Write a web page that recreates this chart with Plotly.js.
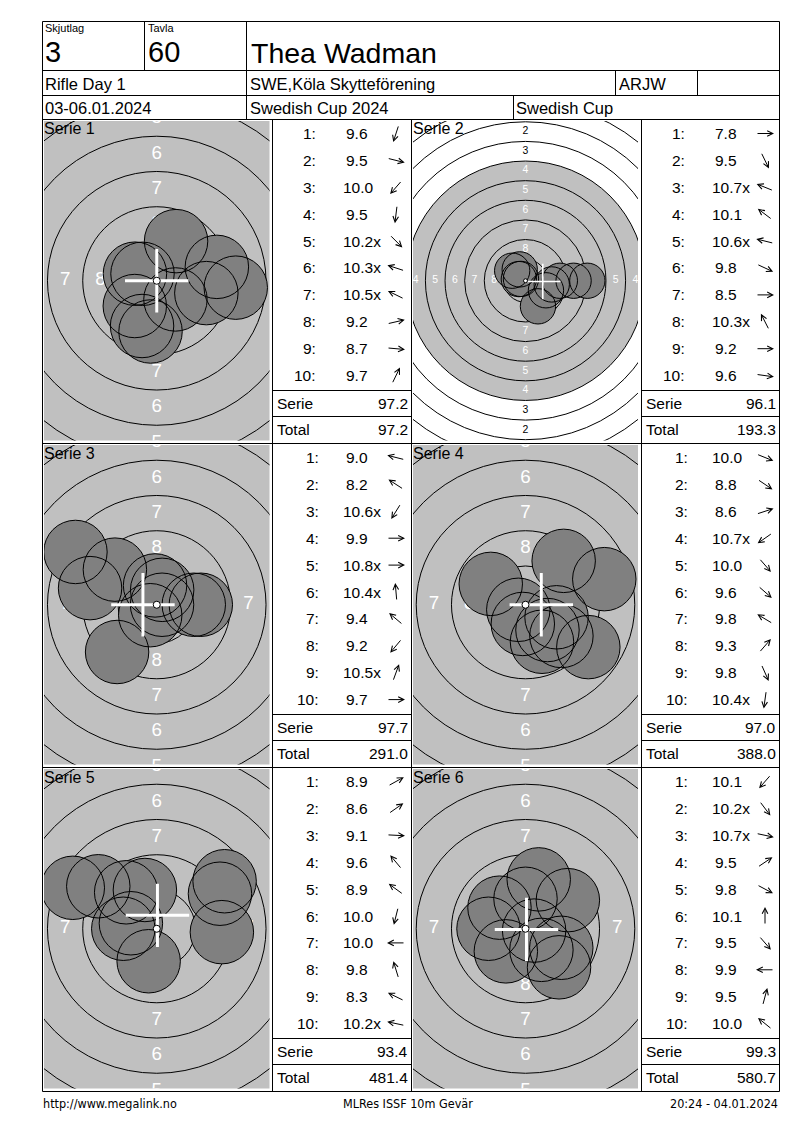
<!DOCTYPE html>
<html><head><meta charset="utf-8">
<script src="https://cdn.plot.ly/plotly-3.0.1.min.js"></script>
<style>html,body{margin:0;padding:0;background:#fff}#chart{width:800px;height:1130px}</style>
</head><body><div id="chart"></div>
<script>
// ---------------- DATA ----------------
const skjutlag = "3";
const tavla = "60";
const shooterName = "Thea Wadman";
const eventName = "Rifle Day 1";
const clubName = "SWE,Köla Skytteförening";
const shooterClass = "ARJW";
const dateText = "03-06.01.2024";
const competition = "Swedish Cup 2024";
const cupName = "Swedish Cup";
const footerLeft = "http://www.megalink.no";
const footerMid = "MLRes ISSF 10m Gevär";
const footerRight = "20:24 - 04.01.2024";

const serieNames = ["Serie 1", "Serie 2", "Serie 3", "Serie 4", "Serie 5", "Serie 6"];

// shot scores (as printed) and shot direction in degrees (0 = right, 90 = up)
const scores1 = ["9.6", "9.5", "10.0", "9.5", "10.2x", "10.3x", "10.5x", "9.2", "8.7", "9.7"];
const dir1 = [-108, -14, -131, -97, -45, 162, 154, 13, -5, 64];
const scores2 = ["7.8", "9.5", "10.7x", "10.1", "10.6x", "9.8", "8.5", "10.3x", "9.2", "9.6"];
const dir2 = [0, -64, 158, 143, 166, -25, 0, 117, 0, -8];
const scores3 = ["9.0", "8.2", "10.6x", "9.9", "10.8x", "10.4x", "9.4", "9.2", "10.5x", "9.7"];
const dir3 = [166, 147, -122, 0, 0, 95, 140, -130, 70, 0];
const scores4 = ["10.0", "8.8", "8.6", "10.7x", "10.0", "9.6", "9.8", "9.3", "9.8", "10.4x"];
const dir4 = [-22, -34, 18, -145, -49, -41, 149, 49, -66, -98];
const scores5 = ["8.9", "8.6", "9.1", "9.6", "8.9", "10.0", "10.0", "9.8", "8.3", "10.2x"];
const dir5 = [29, 35, -3, 130, 144, -104, 180, 107, 154, 168];
const scores6 = ["10.1", "10.2x", "10.7x", "9.5", "9.8", "10.1", "9.5", "9.9", "9.5", "10.0"];
const dir6 = [-131, -53, -12, 34, -28, 90, -49, 180, 75, 141];

const serieTotals = ["97.2", "96.1", "97.7", "97.0", "93.4", "99.3"];
const runningTotals = ["97.2", "193.3", "291.0", "388.0", "481.4", "580.7"];

// mean point of impact cross (mm) as drawn
const mpiX = [0.0, 2.2, -0.98, 1.12, 0.05, 0.07];
const mpiY = [0.0, -0.1, 0.0, 0.0, 0.95, -0.05];

const ringValues = [1, 2, 3, 4, 5, 6, 7, 8, 9];
const labelValues = [1, 2, 3, 4, 5, 6, 7, 8];

// ---------------- LAYOUT HELPERS ----------------
const W = 800, H = 1130;
const F = 'Arial, "Liberation Sans", sans-serif';
const FN = '"Liberation Sans Narrow", "Arial Narrow", "DejaVu Sans Condensed", sans-serif';
const X = v => v / W, Y = v => 1 - v / H;

const scoresAll = [scores1, scores2, scores3, scores4, scores5, scores6];
const dirsAll = [dir1, dir2, dir3, dir4, dir5, dir6];

const rowTop = [119.5, 443.5, 767.5];
const greyX = [[44, 269.5], [413, 638]];
const tableX = [[272.5, 411.5], [641.5, 779.5]];
const viewScale = [14.1, 7.85, 14.1, 14.1, 14.1, 14.1]; // px per mm

// ISSF 10m air rifle target geometry (mm)
const ringR = k => 0.25 + 2.5 * (10 - k);
const BLACK_R = 15.25, PELLET_R = 2.25, TEN_R = 0.25;

const shapes = [], annotations = [], traces = [];
const layout = {
  width: W, height: H, margin: {l: 0, r: 0, t: 0, b: 0},
  paper_bgcolor: '#ffffff', plot_bgcolor: 'rgba(0,0,0,0)',
  showlegend: false, hovermode: false
};

function pline(x0, y0, x1, y1) {
  shapes.push({type: 'line', xref: 'paper', yref: 'paper', x0: X(x0), y0: Y(y0), x1: X(x1), y1: Y(y1),
    line: {color: '#000', width: 1}, layer: 'above'});
}
function ann(text, x, y, size, xanchor, family) {
  annotations.push({xref: 'paper', yref: 'paper', x: X(x), y: Y(y), text: text, showarrow: false,
    xanchor: xanchor || 'left', yanchor: 'middle', borderpad: 0,
    font: {family: family || F, size: size, color: '#000'}});
}
function arrowAnn(cx, cy, deg) {
  const L = 18, a = deg * Math.PI / 180;
  const tipx = cx + L / 2 * Math.cos(a), tipy = cy - L / 2 * Math.sin(a);
  annotations.push({xref: 'paper', yref: 'paper', x: X(tipx), y: Y(tipy), text: '',
    showarrow: true, ax: -L * Math.cos(a), ay: L * Math.sin(a),
    arrowhead: 5, arrowsize: 1.1, arrowwidth: 1, arrowcolor: '#000', standoff: 0, startstandoff: 0,
    font: {size: 1}});
}

// ---------------- HEADER ----------------
pline(42.5, 21.5, 779.5, 21.5);
pline(42.5, 21.5, 42.5, 1091.5);
pline(779.5, 21.5, 779.5, 1091.5);
[70.5, 95.5, 119.5, 443.5, 767.5, 1091.5].forEach(y => pline(42.5, y, 779.5, y));
pline(144.5, 21.5, 144.5, 70.5);
pline(246.5, 21.5, 246.5, 119.5);
pline(615.5, 70.5, 615.5, 95.5);
pline(697.5, 70.5, 697.5, 95.5);
pline(513.5, 95.5, 513.5, 119.5);
[272.5, 411.5, 641.5].forEach(x => pline(x, 119.5, x, 1091.5));

ann("Skjutlag", 44, 28, 11);
ann("Tavla", 146.5, 28, 11);
ann(skjutlag, 44, 52, 29);
ann(tavla, 147, 52, 29);
ann(shooterName, 249.5, 53, 28.5);
ann(eventName, 44, 83.5, 16.5);
ann(clubName, 248.5, 83.5, 16.5);
ann(shooterClass, 618, 83.5, 16.5);
ann(dateText, 44, 108, 16.5);
ann(competition, 248.5, 108, 16.5);
ann(cupName, 515, 108, 16.5);

// footer
ann(footerLeft, 42, 1103, 12.5, 'left', FN);
ann(footerMid, 408, 1103, 12.5, 'center', FN);
ann(footerRight, 779, 1103, 12.5, 'right', FN);

// ---------------- PANELS ----------------
for (let i = 0; i < 6; i++) {
  const n = i + 1, row = Math.floor(i / 2), col = i % 2;
  const suf = n === 1 ? '' : String(n);
  const xa = 'x' + suf, ya = 'y' + suf;
  const T = rowTop[row], s = viewScale[i];
  const gx0 = greyX[col][0], gx1 = greyX[col][1], gy0 = T + 1.5, gy1 = T + 321;
  const hw = (gx1 - gx0) / 2 / s, hh = (gy1 - gy0) / 2 / s;
  layout['xaxis' + suf] = {domain: [X(gx0), X(gx1)], range: [-hw, hw], visible: false, fixedrange: true, anchor: ya};
  layout['yaxis' + suf] = {domain: [Y(gy1), Y(gy0)], range: [-hh, hh], visible: false, fixedrange: true, anchor: xa};

  const circ = (cx, cy, r, fill, lc, lw, layer) => shapes.push({type: 'circle', xref: xa, yref: ya,
    x0: cx - r, x1: cx + r, y0: cy - r, y1: cy + r, fillcolor: fill,
    line: {color: lc, width: lw}, layer: layer});

  // aiming black (grey) and rings
  circ(0, 0, BLACK_R, '#c0c0c0', 'rgba(0,0,0,0)', 0, 'below');
  ringValues.forEach(k => circ(0, 0, ringR(k), 'rgba(0,0,0,0)', '#000', 1, 'below'));

  // ring numbers (only those at least partly inside the view)
  const fs = 1.33 * s;
  const pad = 0.42 * fs / s; // half glyph height in mm
  const lx = [], ly = [], lt = [], lc = [];
  labelValues.forEach(k => {
    const m = (ringR(k) + ringR(k + 1)) / 2;
    [[0, m], [0, -m], [-m, 0], [m, 0]].forEach(p => {
      if (Math.abs(p[0]) - pad * 0.8 > hw || Math.abs(p[1]) - pad > hh) return;
      lx.push(p[0]); ly.push(p[1]); lt.push(String(k)); lc.push(k <= 3 ? '#000000' : '#ffffff');
    });
  });
  traces.push({type: 'scatter', mode: 'text', x: lx, y: ly, text: lt, xaxis: xa, yaxis: ya,
    textposition: 'middle center', textfont: {family: F, size: fs, color: lc},
    hoverinfo: 'skip', showlegend: false, cliponaxis: true});

  // shots
  const sc = scoresAll[i].map(v => parseFloat(v));
  const dirs = dirsAll[i];
  const dist = sc.map(v => (11 - v) * 2.5 - 0.125);
  const sx = dist.map((r, j) => r * Math.cos(dirs[j] * Math.PI / 180));
  const sy = dist.map((r, j) => r * Math.sin(dirs[j] * Math.PI / 180));
  sx.forEach((x, j) => circ(x, sy[j], PELLET_R, '#808080', 'rgba(0,0,0,0)', 0, 'above'));
  sx.forEach((x, j) => circ(x, sy[j], PELLET_R, 'rgba(0,0,0,0)', '#000', 1, 'above'));

  // MPI cross
  const mx = mpiX[i], my = mpiY[i], cw = 0.21 * s;
  shapes.push({type: 'line', xref: xa, yref: ya, x0: mx - PELLET_R, x1: mx + PELLET_R, y0: my, y1: my,
    line: {color: '#fff', width: cw}, layer: 'above'});
  shapes.push({type: 'line', xref: xa, yref: ya, x0: mx, x1: mx, y0: my - PELLET_R, y1: my + PELLET_R,
    line: {color: '#fff', width: cw}, layer: 'above'});
  // ten dot
  circ(0, 0, TEN_R, '#ffffff', '#000', 1, 'above');

  // serie label on target
  ann(serieNames[i], col === 0 ? 43 : 411.5, T + 9.5, 16);

  // table
  const tl = tableX[col][0], tr = tableX[col][1];
  const numOff = row === 0 ? 44.5 : 47.5;
  for (let j = 0; j < 10; j++) {
    const yc = T + 14 + 26.9 * j;
    ann((j + 1) + ':', tl + numOff, yc, 15.5, 'right');
    ann(scoresAll[i][j], tl + (sc[j] >= 10 ? 69.5 : 72.8), yc, 15.5, 'left');
    arrowAnn(tl + 123.5, yc, dirs[j]);
  }
  pline(tl, T + 271, tr, T + 271);
  pline(tl, T + 297, tr, T + 297);
  ann("Serie", tl + 3, T + 284, 15.5, 'left');
  ann(serieTotals[i], tr - 3, T + 284, 15.5, 'right');
  ann("Total", tl + 3, T + 310, 15.5, 'left');
  ann(runningTotals[i], tr - 3, T + 310, 15.5, 'right');
}

layout.shapes = shapes;
layout.annotations = annotations;

Plotly.newPlot('chart', traces, layout, {staticPlot: true, displayModeBar: false});
</script>
</body></html>
